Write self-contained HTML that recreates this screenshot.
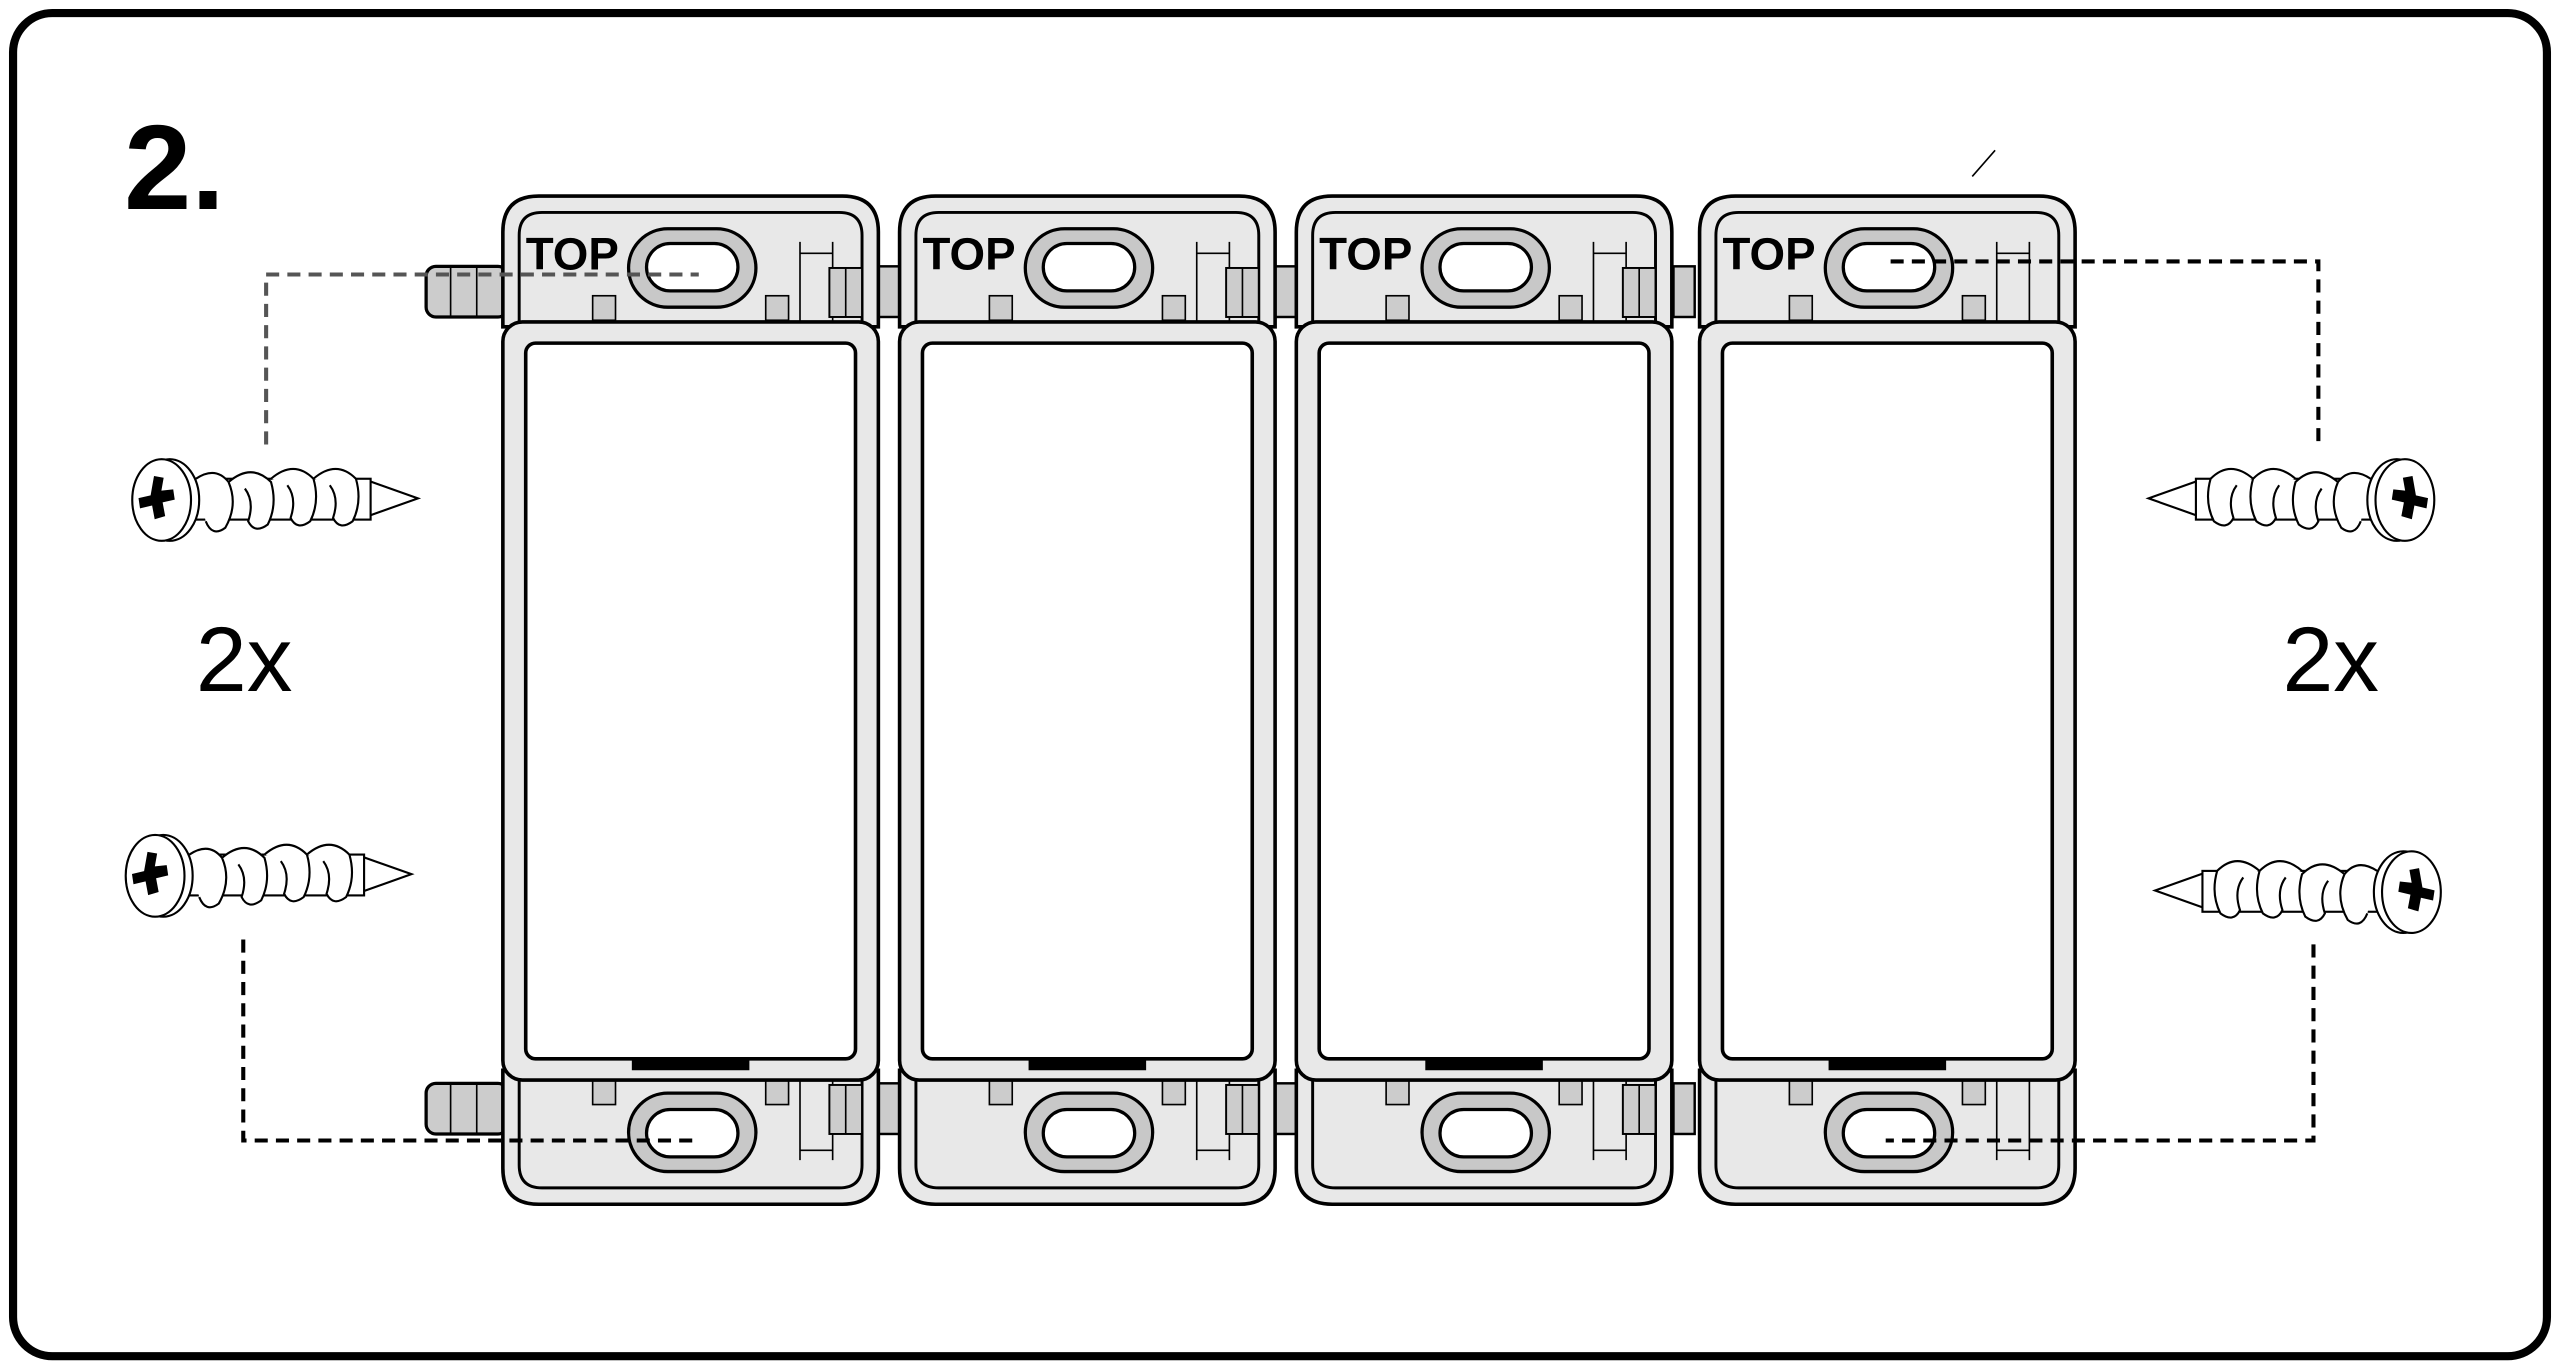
<!DOCTYPE html>
<html><head><meta charset="utf-8"><style>html,body{margin:0;padding:0;background:#fff}svg{display:block}</style></head>
<body>
<svg width="2560" height="1366" viewBox="0 0 1568 836" preserveAspectRatio="none" xmlns="http://www.w3.org/2000/svg">
<defs>
<g id="mod">
  <path d="M0,200 V142 Q0,120 22,120 H208 Q230,120 230,142 V200 Z" fill="#e8e8e8" stroke="#000" stroke-width="2.2"/>
  <path d="M10,200 V144 Q10,130 24,130 H206 Q220,130 220,144 V200" fill="none" stroke="#000" stroke-width="1.8"/>
  <path d="M0,655 V715 Q0,737 22,737 H208 Q230,737 230,715 V655 Z" fill="#e8e8e8" stroke="#000" stroke-width="2.2"/>
  <path d="M10,660 V713 Q10,727 24,727 H206 Q220,727 220,713 V660" fill="none" stroke="#000" stroke-width="1.8"/>
  <rect x="55" y="181" width="14" height="15" fill="#ccc" stroke="#000" stroke-width="1"/>
  <rect x="161" y="181" width="14" height="15" fill="#ccc" stroke="#000" stroke-width="1"/>
  <rect x="55" y="661" width="14" height="15" fill="#ccc" stroke="#000" stroke-width="1"/>
  <rect x="161" y="661" width="14" height="15" fill="#ccc" stroke="#000" stroke-width="1"/>
  <path d="M182,148 V200 M202,148 V200 M182,155 H202" stroke="#000" stroke-width="1" fill="none"/>
  <path d="M182,660 V710 M202,660 V710 M182,704 H202" stroke="#000" stroke-width="1" fill="none"/>
  <rect x="77" y="140" width="78" height="48" rx="24" fill="#c8c8c8" stroke="#000" stroke-width="2"/>
  <rect x="88" y="149" width="56" height="29" rx="14.5" fill="#fff" stroke="#000" stroke-width="2"/>
  <rect x="77" y="669" width="78" height="48" rx="24" fill="#c8c8c8" stroke="#000" stroke-width="2"/>
  <rect x="88" y="679" width="56" height="29" rx="14.5" fill="#fff" stroke="#000" stroke-width="2"/>
  <text x="14" y="165" font-family="Liberation Sans, sans-serif" font-weight="bold" font-size="28">TOP</text>
  <rect x="0" y="197" width="230" height="464" rx="12" fill="#e8e8e8" stroke="#000" stroke-width="2.2"/>
  <rect x="14" y="210" width="202" height="438" rx="6" fill="#fff" stroke="#000" stroke-width="2.2"/>
  <rect x="79" y="647" width="72" height="8" fill="#000"/>
</g>
<g id="blk">
  <rect x="200" y="164" width="20" height="30" fill="#ccc" stroke="#000" stroke-width="1.2"/>
  <line x1="210" y1="164" x2="210" y2="194" stroke="#000" stroke-width="1"/>
  <rect x="200" y="664" width="20" height="30" fill="#ccc" stroke="#000" stroke-width="1.2"/>
  <line x1="210" y1="664" x2="210" y2="694" stroke="#000" stroke-width="1"/>
</g>
<g id="tab">
  <rect x="0" y="0" width="13" height="31" fill="#ccc" stroke="#000" stroke-width="1.5"/>
</g>
<g id="screw" fill="#fff" stroke="#000" stroke-width="1.3">
  <path d="M225,294 L256,305 L225,316 Z"/>
  <rect x="112" y="293" width="115" height="25"/>
  <path d="M120,293 q12,-8 20,2 q6,14 -2,28 q-8,6 -12,-4" />
  <path d="M140,295 q14,-12 26,0 q4,14 -2,26 q-8,6 -12,-2 q4,-12 -2,-20"/>
  <path d="M166,293 q14,-12 26,0 q4,14 -2,26 q-8,6 -12,-2 q4,-12 -2,-20"/>
  <path d="M192,293 q14,-12 26,0 q4,14 -2,26 q-8,6 -12,-2 q4,-12 -2,-20"/>
  <ellipse cx="104" cy="306" rx="18" ry="25"/>
  <ellipse cx="99" cy="306" rx="18" ry="25"/>
  <path d="M92,292 l6,0 l0,8 l7,-2 l2,6 l-7,3 l3,8 l-6,3 l-3,-8 l-7,3 l-2,-6 l7,-3 z" fill="#000" stroke="none" transform="rotate(10 97 305)"/>
</g>
</defs>

<rect x="8" y="8" width="1552" height="822" rx="24" fill="#fff" stroke="#000" stroke-width="5"/>
<text x="76" y="128" font-family="Liberation Sans, sans-serif" font-weight="bold" font-size="74">2.</text>

<rect x="261" y="163" width="50" height="31" rx="6" fill="#ccc" stroke="#000" stroke-width="2"/>
<path d="M276,163 V194 M292,163 V194" stroke="#000" stroke-width="1"/>
<rect x="261" y="663" width="50" height="31" rx="6" fill="#ccc" stroke="#000" stroke-width="2"/>
<path d="M276,663 V694 M292,663 V694" stroke="#000" stroke-width="1"/>
<use href="#tab" x="538" y="163"/><use href="#tab" x="781" y="163"/><use href="#tab" x="1025" y="163"/>
<use href="#tab" x="538" y="663"/><use href="#tab" x="781" y="663"/><use href="#tab" x="1025" y="663"/>

<use href="#mod" x="308" y="0"/>
<use href="#mod" x="551" y="0"/>
<use href="#mod" x="794" y="0"/>
<use href="#mod" x="1041" y="0"/>
<use href="#blk" x="308" y="0"/>
<use href="#blk" x="551" y="0"/>
<use href="#blk" x="794" y="0"/>

<line x1="1208" y1="108" x2="1222" y2="92" stroke="#000" stroke-width="1"/>

<path d="M163,272 V168 H428" fill="none" stroke="#555" stroke-width="2.5" stroke-dasharray="8,5"/>
<path d="M149,575 V698 H425" fill="none" stroke="#000" stroke-width="2.5" stroke-dasharray="8,5"/>
<path d="M1420,270 V160 H1155" fill="none" stroke="#000" stroke-width="2.5" stroke-dasharray="8,5"/>
<path d="M1417,578 V698 H1155" fill="none" stroke="#000" stroke-width="2.5" stroke-dasharray="8,5"/>

<use href="#screw" x="0" y="0"/>
<use href="#screw" x="-4" y="230"/>
<use href="#screw" transform="translate(1572,0) scale(-1,1)"/>
<use href="#screw" transform="translate(1576,240) scale(-1,1)"/>

<text x="120" y="423" font-family="Liberation Sans, sans-serif" font-size="56">2x</text>
<text x="1398" y="423" font-family="Liberation Sans, sans-serif" font-size="56">2x</text>
</svg>
</body></html>
